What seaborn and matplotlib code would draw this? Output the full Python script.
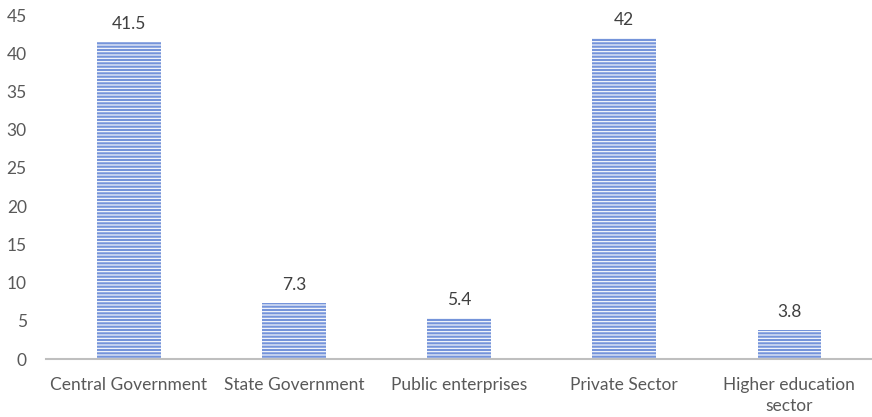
import matplotlib
matplotlib.use("Agg")
import matplotlib.pyplot as plt
import seaborn as sns
import pandas as pd

categories = ["Central Government", "State Government", "Public enterprises", "Private Sector", "Higher education\nsector"]
values = [41.5, 7.3, 5.4, 42, 3.8]
labels = ["41.5", "7.3", "5.4", "42", "3.8"]
yticks = [0, 5, 10, 15, 20, 25, 30, 35, 40, 45]

sns.set_theme(style="white")
plt.rcParams['font.family'] = ['Lato', 'DejaVu Sans']
plt.rcParams['hatch.color'] = '#b9c9f0'
plt.rcParams['hatch.linewidth'] = 0.8

df = pd.DataFrame({"cat": categories, "val": values})
fig = plt.figure(figsize=(8.72, 4.17), dpi=100)
ax = fig.add_axes([0.053, 0.139, 0.947, 0.825])
sns.barplot(data=df, x="cat", y="val", ax=ax, color="#7594da", width=0.385, saturation=1)
for p in ax.patches:
    p.set_hatch("-----")
    p.set_linewidth(0)
for i, (v, l) in enumerate(zip(values, labels)):
    ax.text(i, v + 1.3, l, ha="center", va="bottom", fontsize=12.5, color="#404040")
ax.set_ylim(0, 45)
ax.set_xlim(-0.5, 4.5)
ax.set_yticks(yticks)
ax.set_xlabel("")
ax.set_ylabel("")
for s in ["top", "right", "left"]:
    ax.spines[s].set_visible(False)
ax.spines["bottom"].set_color("#bfbfbf")
ax.spines["bottom"].set_linewidth(1.5)
ax.tick_params(axis="both", labelsize=12.5, labelcolor="#595959", length=0)
ax.tick_params(axis="y", pad=14)
ax.tick_params(axis="x", pad=13)
for t in ax.get_xticklabels():
    t.set_linespacing(1.35)
fig.savefig("out.png", dpi=100)
